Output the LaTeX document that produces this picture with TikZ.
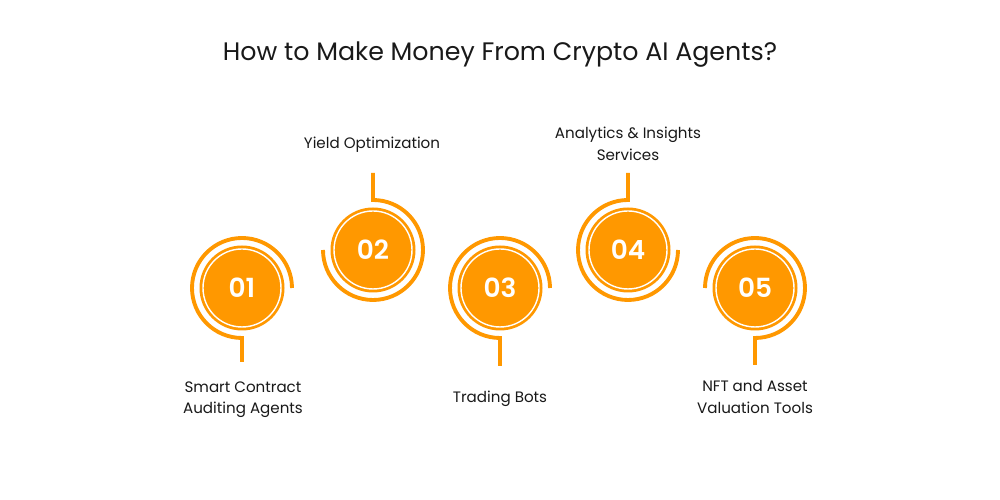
\documentclass[tikz,border=0pt]{standalone}
\usepackage{fontspec}
\setmainfont{Poppins}
\newfontfamily\numfont{Poppins SemiBold}
\usepackage{xcolor}
\usepackage{tikz}
\usetikzlibrary{positioning, calc}
\definecolor{myorange}{RGB}{255, 152, 0}
\definecolor{mytext}{RGB}{25, 25, 25}

\begin{document}
\begin{tikzpicture}[
  disk/.style={circle, fill=myorange, minimum size=1.7cm, inner sep=0pt,
               text=white, font=\fontsize{15}{18}\selectfont\numfont,
               path picture={\draw[white, line width=0.8pt]
                 (path picture bounding box.center) circle[radius=0.78cm];}},
  ring/.style={draw=myorange, line width=2.2pt},
  caption/.style={align=center, text=mytext, inner sep=1pt,
                  font=\fontsize{8.6}{12.2}\selectfont}
]
  \useasboundingbox[fill=white] (0,0) rectangle (20,10);

  \node[text=mytext, font=\fontsize{14.4}{17}\selectfont] (title) at (10,8.9)
    {How to Make Money From Crypto AI Agents?};

  \node[disk] (c1) at (4.84,4.24)  {01};
  \node[disk] (c2) at (7.46,5.0)   {02};
  \node[disk] (c3) at (10.0,4.24)  {03};
  \node[disk] (c4) at (12.56,5.0)  {04};
  \node[disk] (c5) at (15.1,4.24)  {05};

  \node[caption] (l1) at (4.86,2.01)  {Smart Contract\\Auditing Agents};
  \node[caption] (l2) at (7.44,7.10)  {Yield Optimization};
  \node[caption] (l3) at (10.0,2.02)  {Trading Bots};
  \node[caption] (l4) at (12.56,7.12) {Analytics \& Insights\\Services};
  \node[caption] (l5) at (15.1,2.06)  {NFT and Asset\\Valuation Tools};

  % where the rings meet their stems
  \coordinate (a1) at ($(c1)+(0,-1)$);
  \coordinate (a2) at ($(c2)+(0,1)$);
  \coordinate (a3) at ($(c3)+(0,-1)$);
  \coordinate (a4) at ($(c4)+(0,1)$);
  \coordinate (a5) at ($(c5)+(0,-1)$);
  \coordinate[below=0.48cm of a1] (e1);
  \coordinate[above=0.54cm of a2] (e2);
  \coordinate[below=0.56cm of a3] (e3);
  \coordinate[above=0.54cm of a4] (e4);
  \coordinate[below=0.54cm of a5] (e5);

  \draw[ring] (e1) -- (a1) arc[start angle=270, end angle=0, radius=1cm];
  \draw[ring] (e2) -- (a2) arc[start angle=90, end angle=-180, radius=1cm];
  \draw[ring] (e3) -- (a3) arc[start angle=270, end angle=0, radius=1cm];
  \draw[ring] (e4) -- (a4) arc[start angle=90, end angle=360, radius=1cm];
  \draw[ring] (e5) -- (a5) arc[start angle=-90, end angle=180, radius=1cm];
\end{tikzpicture}
\end{document}
